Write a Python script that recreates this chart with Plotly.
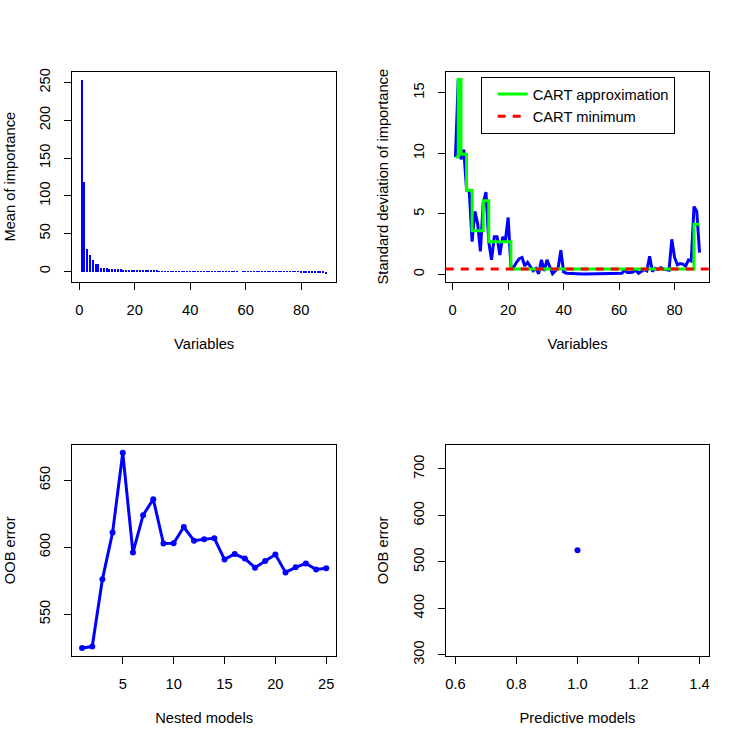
import plotly.graph_objects as go

# ---------------- data ----------------
variables = list(range(1, 90))
mean_importance = [
    254, 118, 30, 22, 16, 10.5, 9.5, 5.3, 4.5, 4.2, 3.9, 3.6, 3.4, 3.1, 2.9,
    2.7, 2.4, 2.2, 2.0, 1.8, 1.5, 1.3, 1.2, 1.1, 1.0,
    0.9, 0.85, 0.8, 0.75, 0.7, 0.65, 0.6, 0.55, 0.5, 0.48, 0.45, 0.42, 0.4,
    0.38, 0.35, 0.32, 0.3, 0.28, 0.25, 0.22, 0.2, 0.18, 0.15, 0.12, 0.1,
    0.08, 0.06, 0.05, 0.04, 0.03, 0.02, 0.01, 0.0, -0.01, -0.02,
    -0.03, -0.05, -0.06, -0.08, -0.1, -0.12, -0.14, -0.16, -0.18, -0.2,
    -0.23, -0.26, -0.3, -0.33, -0.37, -0.4, -0.45, -0.5, -0.55, -0.6,
    -0.7, -0.8, -0.9, -1.0, -1.2, -1.4, -1.7, -2.2, -3.5,
]
sd_importance = [
    9.7, 16.1, 9.5, 10.3, 7.0, 6.8, 2.7, 5.2, 4.2, 1.9,
    5.9, 6.8, 2.7, 1.2, 3.1, 3.1, 1.6, 3.1, 2.8, 4.7,
    0.6, 0.6, 1.0, 1.3, 1.4, 0.7, 1.0, 0.6, 0.3, 0.5,
    0.05, 1.2, 0.3, 1.2, 0.7, 0.05, 0.3, 0.5, 2.0, 0.2,
    0.1, 0.08, 0.07, 0.06, 0.05, 0.05, 0.04, 0.04, 0.04, 0.04,
    0.04, 0.04, 0.04, 0.05, 0.05, 0.05, 0.06, 0.06, 0.07, 0.08,
    0.1, 0.35, 0.15, 0.15, 0.2, 0.35, 0.1, 0.25, 0.4, 0.3,
    1.5, 0.25, 0.5, 0.4, 0.55, 0.45, 0.4, 0.35, 2.9, 1.4,
    0.8, 0.9, 0.85, 0.7, 1.2, 1.1, 5.6, 5.2, 1.8,
]
cart_approx = (
    [9.7, 16.1] + [9.93] * 2 + [6.96] * 2 + [3.6] * 4 + [6.08] * 2
    + [2.69] * 8 + [0.44] * 66 + [4.15] * 3
)
nested_models = list(range(1, 26))
oob_nested = [
    524.8, 525.8, 576.0, 610.9, 670.5, 596.0, 623.9, 635.9, 602.7, 602.9,
    615.1, 604.9, 605.9, 606.7, 590.9, 594.9, 591.5, 584.7, 589.7, 594.5,
    581.2, 585.0, 587.9, 583.4, 584.2,
]
pred_models = [1]
oob_pred = [524.8]

x_ticks_var = [0, 20, 40, 60, 80]
y_ticks_mean = [0, 50, 100, 150, 200, 250]
y_ticks_sd = [0, 5, 10, 15]
x_ticks_nested = [5, 10, 15, 20, 25]
y_ticks_nested = [550, 600, 650]
x_ticks_pred = [0.6, 0.8, 1.0, 1.2, 1.4]
x_ticktext_pred = ["0.6", "0.8", "1.0", "1.2", "1.4"]
y_ticks_pred = [300, 400, 500, 600, 700]


def r_range(vals):
    lo, hi = min(vals), max(vals)
    if hi == lo:
        lo, hi = lo - 0.4 * abs(lo), hi + 0.4 * abs(hi)
    d = (hi - lo) * 0.04
    return [lo - d, hi + d]


BLUE = "#0000FF"
GREEN = "#00FF00"
RED = "#FF0000"
W, H = 747, 746
FS = 14.7

fig = go.Figure()

fig.add_trace(go.Bar(x=variables, y=mean_importance, width=0.4,
                     marker=dict(color=BLUE, line=dict(width=0)),
                     xaxis="x", yaxis="y", showlegend=False))

fig.add_trace(go.Scatter(x=variables, y=sd_importance, mode="lines",
                         line=dict(color=BLUE, width=3),
                         xaxis="x2", yaxis="y2", showlegend=False))
fig.add_trace(go.Scatter(x=variables, y=cart_approx, mode="lines",
                         line=dict(color=GREEN, width=3, shape="hv"),
                         name="CART approximation",
                         xaxis="x2", yaxis="y2", showlegend=True, legendrank=1))
fig.add_shape(type="line", xref="x2 domain", yref="y2", x0=0, x1=1,
              y0=min(cart_approx), y1=min(cart_approx),
              line=dict(color=RED, width=3, dash="8px,7px"),
              showlegend=True, name="CART minimum", legendrank=2)

fig.add_trace(go.Scatter(x=nested_models, y=oob_nested, mode="lines+markers",
                         line=dict(color=BLUE, width=3),
                         marker=dict(color=BLUE, size=6),
                         xaxis="x3", yaxis="y3", showlegend=False))
fig.add_trace(go.Scatter(x=pred_models, y=oob_pred, mode="markers",
                         marker=dict(color=BLUE, size=6),
                         xaxis="x4", yaxis="y4", showlegend=False))

xl = [72.3 / W, 336.0 / W]
xr = [445.7 / W, 709.3 / W]
yt = [1 - 281.7 / H, 1 - 71.7 / H]
yb = [1 - 655.7 / H, 1 - 445.0 / H]

common = dict(showline=True, linecolor="black", linewidth=1, mirror=True,
              ticks="outside", ticklen=7, tickwidth=1, tickcolor="black",
              showgrid=False, zeroline=False, ticklabelstandoff=8,
              automargin=False, tickfont=dict(size=FS))


def xax(domain, anchor, rng, tv, title, tt=None):
    d = dict(common, domain=domain, anchor=anchor, range=rng, tickvals=tv,
             title=dict(text=title, standoff=21, font=dict(size=FS)))
    if tt:
        d["ticktext"] = tt
    return d


def yax(domain, anchor, rng, tv, title):
    return dict(common, domain=domain, anchor=anchor, range=rng, tickvals=tv,
                tickangle=-90,
                title=dict(text=title, standoff=18, font=dict(size=FS)))


fig.update_layout(
    width=W, height=H,
    margin=dict(l=0, r=0, t=0, b=0),
    paper_bgcolor="white", plot_bgcolor="white",
    font=dict(family="Liberation Sans, Arial, sans-serif", size=FS, color="black"),
    bargap=0,
    xaxis=xax(xl, "y", r_range(variables), x_ticks_var, "Variables"),
    yaxis=yax(yt, "x", r_range(mean_importance), y_ticks_mean, "Mean of importance"),
    xaxis2=xax(xr, "y2", r_range(variables), x_ticks_var, "Variables"),
    yaxis2=yax(yt, "x2", r_range(sd_importance), y_ticks_sd,
               "Standard deviation of importance"),
    xaxis3=xax(xl, "y3", r_range(nested_models), x_ticks_nested, "Nested models"),
    yaxis3=yax(yb, "x3", r_range(oob_nested), y_ticks_nested, "OOB error"),
    xaxis4=xax(xr, "y4", r_range(pred_models), x_ticks_pred, "Predictive models",
               x_ticktext_pred),
    yaxis4=yax(yb, "x4", r_range(oob_pred), y_ticks_pred, "OOB error"),
    legend=dict(x=480.7 / W, y=1 - 77 / H, xanchor="left", yanchor="top",
                bordercolor="black", borderwidth=1, bgcolor="white",
                font=dict(size=FS), tracegroupgap=0, indentation=11,
                entrywidth=171),
)

fig.write_html("out.html", config={"displayModeBar": False},
               post_script="document.body.style.margin='0px';")
